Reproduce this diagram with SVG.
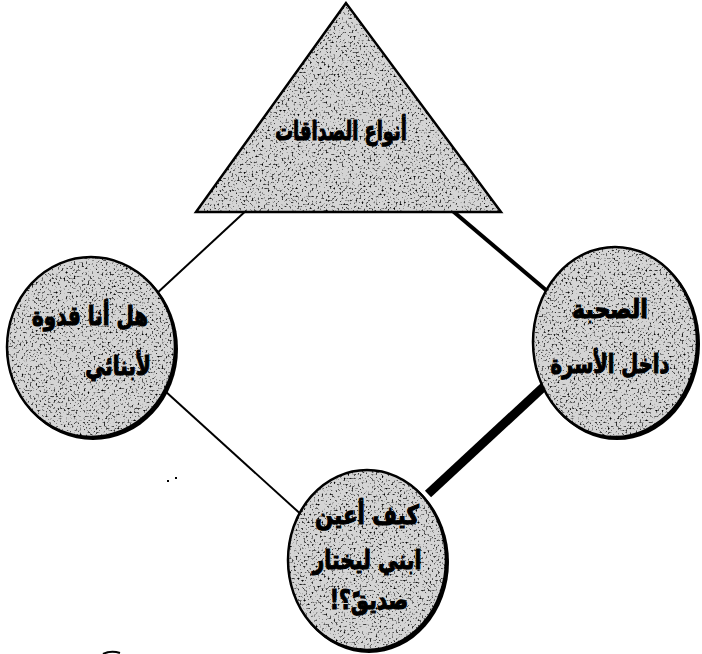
<svg xmlns="http://www.w3.org/2000/svg" width="702" height="654" viewBox="0 0 702 654">
  <defs>
    <filter id="speckle" x="0" y="0" width="1" height="1">
      <feTurbulence type="fractalNoise" baseFrequency="0.5" numOctaves="3" seed="7" result="n"/>
      <feColorMatrix in="n" type="matrix" values="0 0 0 0 0  0 0 0 0 0  0 0 0 0 0  4.5 0 0 0 -2.5" result="d"/>
      <feComposite in="d" in2="SourceAlpha" operator="in"/>
    </filter>
  </defs>
  <style>
    .fill { fill: #d4d4d4; }
    .edge { fill: none; stroke: #000; stroke-width: 2.5; }
    .shadow { fill: #000; }
    .tex { fill: #000; filter: url(#speckle); }
    .lbl { font-family: "DejaVu Sans", sans-serif; font-weight: bold; font-size: 21px; fill: #000; stroke: #000; stroke-width: 0.9; text-anchor: middle; direction: rtl; }
    .conn { stroke: #000; fill: none; stroke-linecap: butt; }
  </style>
  <rect width="702" height="654" fill="#fff"/>
  <g id="connectors">
    <line class="conn" x1="250" y1="207" x2="155" y2="295" stroke-width="2"/>
    <line class="conn" x1="165" y1="391" x2="305" y2="518" stroke-width="2"/>
    <line class="conn" x1="448" y1="207" x2="553" y2="296" stroke-width="4"/>
    <line class="conn" x1="552" y1="379" x2="428" y2="494" stroke-width="9"/>
  </g>
  <g id="node-types">
    <polygon class="fill" points="346,3 196,212 501,212"/>
    <polygon class="tex" points="346,3 196,212 501,212"/>
    <polygon class="edge" points="346,3 196,212 501,212" stroke-linejoin="miter"/>
    <text class="lbl" transform="translate(341,140) scale(0.85,1.25)">أنواع الصداقات</text>
  </g>
  <g id="node-role-model">
    <ellipse class="shadow" cx="93" cy="349" rx="85" ry="91"/>
    <ellipse class="fill" cx="91" cy="347" rx="84" ry="90"/>
    <ellipse class="tex" cx="91" cy="347" rx="84" ry="90"/>
    <ellipse class="edge" cx="91" cy="347" rx="84" ry="90"/>
    <text class="lbl" transform="translate(90,325) scale(0.95,1.25)">هل أنا قدوة</text>
    <text class="lbl" transform="translate(118,375) scale(0.95,1.25)">لأبنائي</text>
  </g>
  <g id="node-family">
    <ellipse class="shadow" cx="617" cy="344" rx="83" ry="96"/>
    <ellipse class="fill" cx="615" cy="342" rx="82" ry="95"/>
    <ellipse class="tex" cx="615" cy="342" rx="82" ry="95"/>
    <ellipse class="edge" cx="615" cy="342" rx="82" ry="95"/>
    <text class="lbl" transform="translate(610,318) scale(1.05,1.25)">الصحبة</text>
    <text class="lbl" transform="translate(610,373) scale(0.93,1.25)">داخل الأسرة</text>
  </g>
  <g id="node-choose-friend">
    <ellipse class="shadow" cx="369" cy="562" rx="80" ry="91"/>
    <ellipse class="fill" cx="367" cy="560" rx="79" ry="90"/>
    <ellipse class="tex" cx="367" cy="560" rx="79" ry="90"/>
    <ellipse class="edge" cx="367" cy="560" rx="79" ry="90"/>
    <text class="lbl" transform="translate(367,524) scale(1.02,1.25)">كيف أعين</text>
    <text class="lbl" transform="translate(367,569) scale(0.97,1.25)">ابني ليختار</text>
    <text class="lbl" transform="translate(369,609) scale(0.97,1.25)">صديقً؟!</text>
  </g>
  <g id="marks">
    <rect x="167" y="480" width="2" height="2" fill="#000"/>
    <rect x="175" y="477" width="2" height="2" fill="#000"/>
    <path d="M103,654 Q111,650 120,653" fill="none" stroke="#000" stroke-width="2"/>
  </g>
</svg>
